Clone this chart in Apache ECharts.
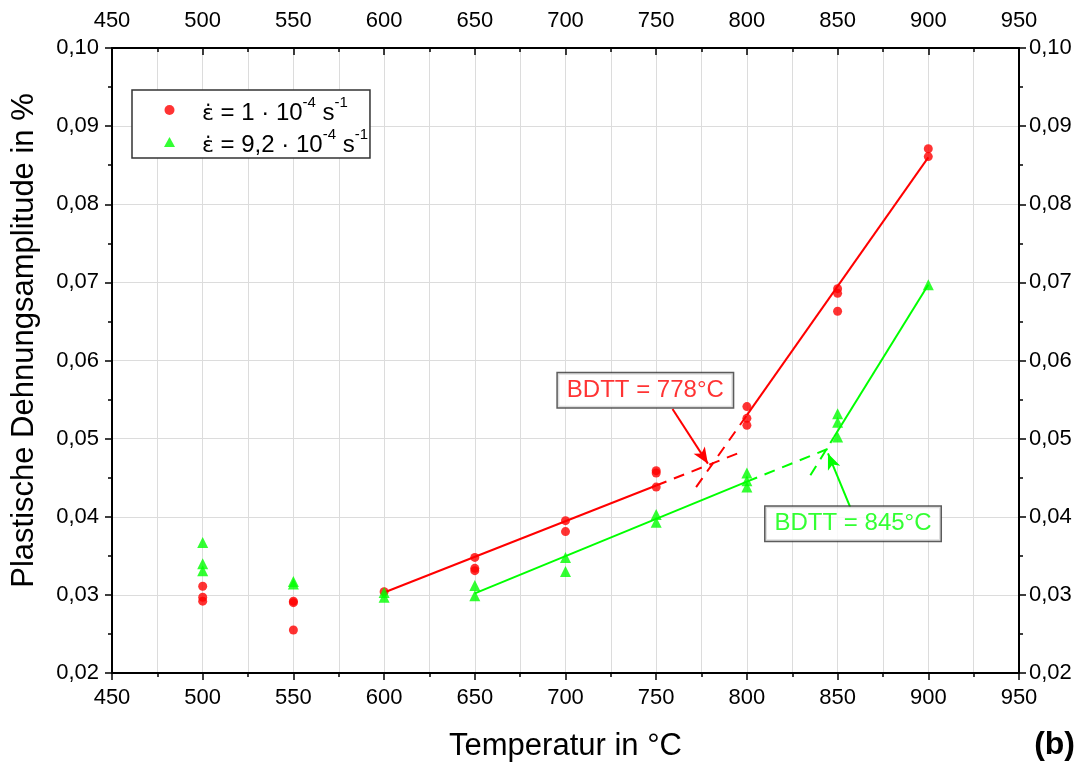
<!DOCTYPE html>
<html><head><meta charset="utf-8">
<script src="https://cdn.jsdelivr.net/npm/echarts@6/dist/echarts.min.js"></script>
<style>html,body{margin:0;padding:0;background:#fff}#c{width:1081px;height:767px}</style>
</head><body><div id="c"></div>
<script>
// ---- data ----
const xMin = 450, xMax = 950, xStep = 50;
const yMin = 0.02, yMax = 0.10, yStep = 0.01;

const tempsRed  = [500,500,500, 550,550,550, 600, 650,650,650, 700,700, 750,750,750, 800,800,800, 850,850,850, 900,900];
const strainRed = [0.0311,0.0297,0.0292, 0.0292,0.0290,0.0255, 0.0304, 0.0348,0.0334,0.0331, 0.0395,0.0381, 0.0459,0.0456,0.0438, 0.0541,0.0526,0.0517, 0.0692,0.0686,0.0663, 0.0871,0.0861];

const tempsGreen  = [500,500,500, 550,550, 600,600, 650,650, 700,700, 750,750, 800,800,800, 850,850,850, 900];
const strainGreen = [0.0367,0.0340,0.0331, 0.0317,0.0314, 0.0303,0.0297, 0.0312,0.0299, 0.0348,0.0330, 0.0403,0.0393, 0.0456,0.0446,0.0438, 0.0532,0.0521,0.0502, 0.0697];

const redFitLow       = [[600,0.0303],[750,0.0440]];
const redFitLowDash   = [[750,0.0440],[797,0.0483]];
const redFitHigh      = [[800,0.0530],[900,0.0860]];
const redFitHighDash  = [[772,0.0438],[800,0.0530]];
const greenFitLow      = [[650,0.0302],[800,0.0445]];
const greenFitLowDash  = [[800,0.0445],[848,0.0490]];
const greenFitHigh     = [[848,0.0502],[900,0.0697]];
const greenFitHighDash = [[835,0.0453],[848,0.0502]];

const redArrow   = [[759,0.0538],[778.5,0.0468]];
const greenArrow = [[857,0.0412],[844.7,0.0481]];
const redLabel   = {text:'BDTT = 778°C', at:[744,0.0562]};
const greenLabel = {text:'BDTT = 845°C', at:[858.5,0.0391]};

const legendRed   = 'r1';
const legendGreen = 'r2';

// ---- chart ----
const RED = '#ff0000', GREEN = '#00ff00';
const FONT = 'Liberation Sans, Arial, sans-serif';
const zip = (a,b) => a.map((v,i)=>[v,b[i]]);
const fmtY = v => v.toFixed(2).replace('.', ',');

const chart = echarts.init(document.getElementById('c'), null, {renderer:'canvas'});

function xAx(pos){
  const top = pos === 'top';
  return {
    type:'value', position:pos, min:xMin, max:xMax, interval:xStep,
    name: top ? '' : 'Temperatur in °C', nameLocation:'middle', nameGap:58,
    nameTextStyle:{fontFamily:FONT, fontSize:31, color:'#000'},
    axisLine:{show:true, onZero:false, lineStyle:{color:'#000', width:2}},
    axisTick:{show:true, inside:top, length:7, lineStyle:{color:'#000', width:1.5}},
    minorTick:{show:true, splitNumber:2, length:4, lineStyle:{color:'#000', width:1.5}},
    axisLabel:{show:true, margin: top?16:14, fontFamily:FONT, fontSize:22, color:'#000'},
    splitLine:{show:!top, lineStyle:{color:'#dcdcdc', width:1}},
    minorSplitLine:{show:!top, lineStyle:{color:'#dcdcdc', width:1}}
  };
}
function yAx(pos){
  const right = pos === 'right';
  return {
    type:'value', position:pos, min:yMin, max:yMax, interval:yStep,
    name: right ? '' : 'Plastische Dehnungsamplitude in %', nameLocation:'middle', nameGap:72,
    nameTextStyle:{fontFamily:FONT, fontSize:31, color:'#000', padding:[0,0,0,40]},
    axisLine:{show:true, onZero:false, lineStyle:{color:'#000', width:2}},
    axisTick:{show:true, inside:false, length:7, lineStyle:{color:'#000', width:1.5}},
    minorTick:{show:true, splitNumber:2, length:4, lineStyle:{color:'#000', width:1.5}},
    axisLabel:{show:true, margin: right?10:13, fontFamily:FONT, fontSize:22, color:'#000', formatter:fmtY},
    splitLine:{show:!right, lineStyle:{color:'#dcdcdc', width:1}},
    minorSplitLine:{show:false}
  };
}
function fit(data, color, dashed){
  return {type:'line', data:data, showSymbol:false, symbol:'none', silent:true, z:3,
    lineStyle:{color:color, width:2, type: dashed ? [11,8] : 'solid'}};
}
function annotation(lbl, arrow, color){
  return {type:'scatter', data:[lbl.at], symbol:'rect', symbolSize:1, silent:true, z:10,
    itemStyle:{color:'rgba(0,0,0,0)'},
    label:{show:true, position:'inside', formatter:()=>lbl.text, color:color, fontFamily:FONT, fontSize:24,
      backgroundColor:'#ffffff', borderColor:'#333', borderWidth:1.5, padding:[6,9,4,9]},
    markLine:{silent:true, symbol:['none','arrow'], symbolSize:[10,16], animation:false,
      lineStyle:{color:color, width:2, type:'solid'}, label:{show:false},
      data:[[{coord:arrow[0]},{coord:arrow[1]}]]}};
}

const supText = {
  e:{fontFamily:'DejaVu Sans', fontSize:22, color:'#000', lineHeight:30, verticalAlign:'bottom'},
  t:{fontFamily:FONT, fontSize:24, color:'#000', lineHeight:30, verticalAlign:'bottom'},
  s:{fontFamily:FONT, fontSize:15, color:'#000', lineHeight:20, verticalAlign:'top'}
};

chart.setOption({
  animation:false,
  backgroundColor:'#fff',
  grid:{left:112, right:62, top:48, bottom:94, containLabel:false},
  xAxis:[xAx('bottom'), xAx('top')],
  yAxis:[yAx('left'), yAx('right')],
  legend:{
    data:[legendRed, legendGreen], orient:'vertical', left:132, top:90,
    backgroundColor:'#fff', borderColor:'#333', borderWidth:1.5, padding:[5,2,1,32], itemGap:2,
    itemWidth:11, itemHeight:10, symbolKeepAspect:true,
    textStyle:{rich:supText, padding:[0,0,0,22]},
    formatter: n => n === legendRed
      ? '{e|ε̇}{t| = 1 · 10}{s|-4}{t| s}{s|-1}'
      : '{e|ε̇}{t| = 9,2 · 10}{s|-4}{t| s}{s|-1}'
  },
  graphic:[{type:'text', right:6, bottom:6, style:{text:'(b)', fontFamily:FONT, fontSize:32, fontWeight:'bold', fill:'#000'}}],
  series:[
    fit(redFitLow, RED, false), fit(redFitLowDash, RED, true),
    fit(redFitHigh, RED, false), fit(redFitHighDash, RED, true),
    fit(greenFitLow, GREEN, false), fit(greenFitLowDash, GREEN, true),
    fit(greenFitHigh, GREEN, false), fit(greenFitHighDash, GREEN, true),
    {name:legendRed, type:'scatter', data:zip(tempsRed, strainRed), symbol:'circle', symbolSize:9,
      itemStyle:{color:RED}, z:5},
    {name:legendGreen, type:'scatter', data:zip(tempsGreen, strainGreen), symbol:'triangle', symbolSize:11,
      itemStyle:{color:GREEN}, z:5},
    annotation(redLabel, redArrow, RED), annotation(greenLabel, greenArrow, GREEN)
  ]
});
</script></body></html>
